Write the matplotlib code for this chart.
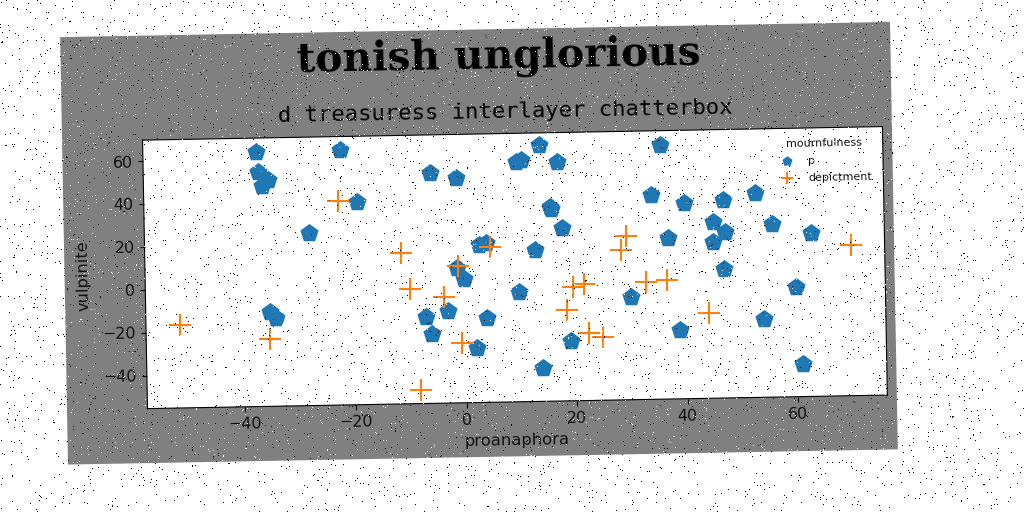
import numpy as np
import matplotlib
matplotlib.use("Agg")
import matplotlib.pyplot as plt
from matplotlib.axes import Axes
from matplotlib.patches import Rectangle
from matplotlib.transforms import Affine2D

title = "tonish unglorious"
subtitle = "d treasuress interlayer chatterbox"
x_label = "proanaphora"
y_label = "vulpinite"
legend_title = "mournfulness"
series_names = ["p", "depictment"]

p_x = [-37.3, -22.1, -37.0, -35.2, -36.2, -5.8, -1.1, 13.9, 17.2, 9.8, 10.6, 35.9,
       -19.2, 15.8, 16.0, 34.0, 39.9, 47.1, 52.9, 17.9, -28.0, 45.1, 47.2, 45.0,
       36.9, 55.9, 62.9, 2.7, 4.1, 12.8, -0.1, -1.2, 46.9, 9.9, 59.9, 30.0, -35.3, -34.1,
       -7.1, -3.1, 3.9, -6.1, 2.0, 19.0, 13.9, 38.9, 54.0, 60.9]
p_y = [63.3, 63.5, 53.9, 50.2, 47.4, 52.0, 49.5, 64.1, 56.1, 56.4, 57.3, 63.1,
       39.1, 35.2, 34.2, 39.9, 35.9, 36.9, 39.9, 25.3, 25.1, 26.7, 22.0, 17.4,
       19.6, 25.3, 20.7, 18.0, 18.9, 15.2, 2.3, 7.5, 4.8, -4.2, -4.2, -7.5, -11.4, -14.4,
       -15.1, -12.4, -16.0, -23.0, -30.0, -27.5, -39.9, -23.3, -18.9, -39.9]
dep_x = [-22.5, -11.3, -9.9, -3.8, -1.1, -0.6, -8.2, -51.6, -35.4, 4.7, 29.3,
         28.5, 18.4, 19.7, 21.7, 22.4, 24.9, 32.8, 36.6, 44.1, 70.0]
dep_y = [39.7, 15.0, -1.9, -5.9, 8.5, -27.5, -49.0, -16.7, -24.0, 17.0, 21.0,
         14.5, -13.0, -2.3, -1.0, -23.9, -25.9, -0.6, 0.1, -15.6, 14.9]

ANGLE = 1.05
ROT = Affine2D().rotate_deg_around(479, 512 - 243, ANGLE)


class TiltedAxes(Axes):
    def _set_lim_and_transforms(self):
        super()._set_lim_and_transforms()
        self.transAxes = self.transAxes + ROT
        self.transData = self.transData + ROT
        self._xaxis_transform = self._xaxis_transform + ROT
        self._yaxis_transform = self._yaxis_transform + ROT


fig = plt.figure(figsize=(10.24, 5.12), dpi=100, facecolor="white")
fig.add_artist(Rectangle((64, 55), 830, 427.5, transform=ROT,
                         facecolor="#808080", edgecolor="none", zorder=-1))

ax = fig.add_axes([144.5 / 1024, 109.5 / 512, 740 / 1024, 268.5 / 512],
                  axes_class=TiltedAxes)
ax.scatter(p_x, p_y, s=190, marker="p", color="#1f77b4", linewidths=0, label=series_names[0])
ax.scatter(dep_x, dep_y, s=260, marker="+", color="#ff7f0e", linewidths=1.5, label=series_names[1])
ax.set_xlim(-57.7, 76.1)
ax.set_ylim(-55.3, 69.8)
ax.set_xticks([-40, -20, 0, 20, 40, 60])
ax.set_yticks([-40, -20, 0, 20, 40, 60])
ax.tick_params(labelsize=11.5, labelrotation=ANGLE, labelcolor="#111111")

fig.suptitle(title, x=499 / 1024, y=455 / 512, fontsize=29.3, fontweight="bold",
             family="DejaVu Serif", rotation=ANGLE, rotation_mode="anchor",
             ha="center", va="center", color="black")
ax.set_title(subtitle, family="DejaVu Sans Mono", fontsize=16, rotation=ANGLE,
             rotation_mode="anchor", x=0.491, y=1.08, pad=0, va="center", color="black")

ax.set_xlabel(x_label, fontsize=11.8, rotation=ANGLE, rotation_mode="anchor", va="center", color="#111111")
ax.set_ylabel(y_label, fontsize=11.8, rotation=90 + ANGLE, rotation_mode="anchor", va="center", ha="center", color="#111111")
for axis, pos in ((ax.xaxis, (0.499, -0.143)), (ax.yaxis, (-0.0832, 0.498))):
    axis._update_label_position = lambda renderer: None
    axis.label.set_transform(ax.transAxes)
    axis.label.set_position(pos)

leg = ax.legend(title=legend_title, loc="upper right", frameon=False, fontsize=8,
                title_fontsize=8, markerscale=0.55, labelspacing=0.55,
                bbox_to_anchor=(0.995, 1.018), borderpad=0.3, handletextpad=0.9)
for t in leg.get_texts() + [leg.get_title()]:
    t.set_rotation(ANGLE)
    t.set_color("#111111")

# Print speckle over the whole picture (texture, not chart data)
rng = np.random.default_rng(7)
speck = rng.random((512, 1024))
tex = np.zeros((512, 1024, 4))
tex[speck < 0.011] = (0, 0, 0, 1)
tex[speck > 0.989] = (1, 1, 1, 1)
fig.figimage(tex, zorder=10, origin="upper", resize=False)

fig.savefig("out.png", dpi=100)
